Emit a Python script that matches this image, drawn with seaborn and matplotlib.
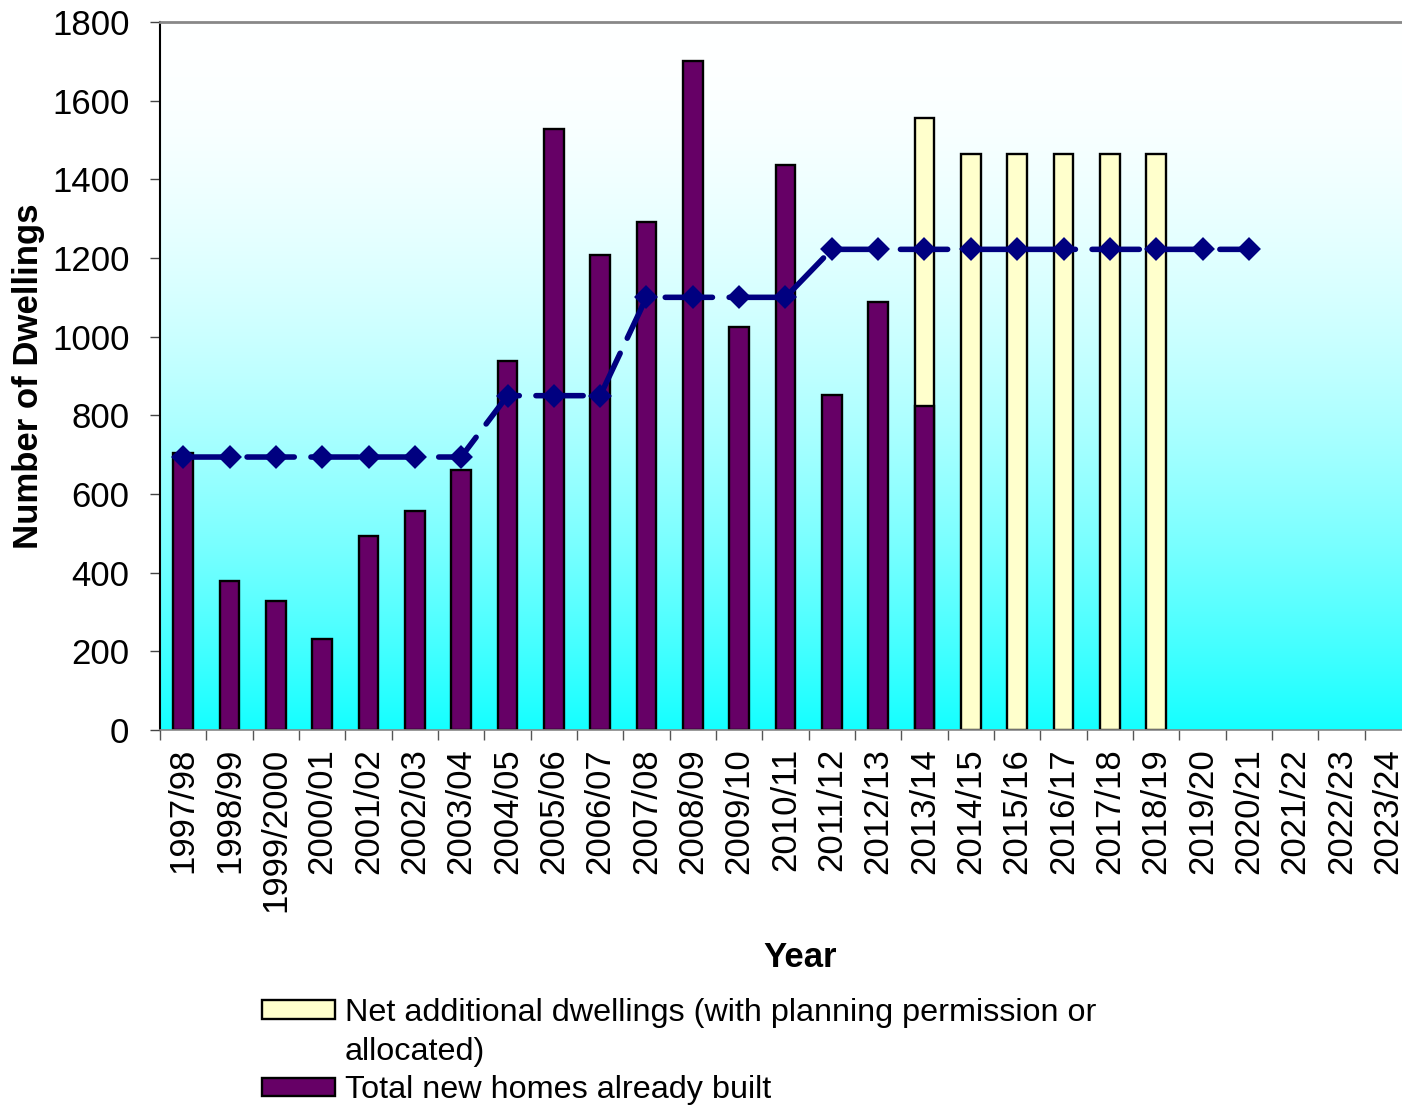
"""Dwelling completions vs requirement, recreated with seaborn."""
import matplotlib; matplotlib.use("Agg")
import numpy as np
import pandas as pd
import matplotlib.pyplot as plt
import seaborn as sns
from matplotlib.patches import Patch

years = ["1997/98", "1998/99", "1999/2000", "2000/01", "2001/02", "2002/03",
         "2003/04", "2004/05", "2005/06", "2006/07", "2007/08", "2008/09",
         "2009/10", "2010/11", "2011/12", "2012/13", "2013/14", "2014/15",
         "2015/16", "2016/17", "2017/18", "2018/19", "2019/20", "2020/21",
         "2021/22", "2022/23", "2023/24"]
nan = np.nan
built = [705, 380, 328, 231, 493, 557, 661, 938, 1528, 1208, 1292, 1701,
         1025, 1437, 852, 1088, 824, nan, nan, nan, nan, nan, nan, nan,
         nan, nan, nan]
net_additional = [nan] * 16 + [732, 1465, 1465, 1465, 1465, 1465] + [nan] * 5
requirement = [694] * 7 + [850] * 3 + [1100] * 4 + [1222] * 10 + [nan] * 3

PURPLE = "#660066"
YELLOW = "#FFFFCC"
NAVY = "#000080"
FS = 25
LEG_FS = 23.3

sns.set_style("white")
plt.rcParams["font.family"] = ["Liberation Sans", "DejaVu Sans"]
plt.rcParams.update({"font.size": FS, "text.color": "black",
                     "axes.labelcolor": "black"})

df = pd.DataFrame({"year": years, "built": built, "net": net_additional,
                   "req": requirement})
# stacked: yellow drawn to full height, purple drawn over the lower part
df["total"] = df["built"].fillna(0) + df["net"]

fig = plt.figure(figsize=(14.02, 11.07), dpi=100)
# plot area runs to the right edge of the picture, as in the original
ax = fig.add_axes([160 / 1402, 1 - 730 / 1107, 1251 / 1402, 708 / 1107])

# gradient background, white at top to cyan at bottom
t = np.linspace(0, 1, 400)[:, None]
r = 1 - 0.92 * t ** 1.85
grad = np.dstack([r, np.ones_like(r), np.ones_like(r)])
ax.imshow(grad, extent=[0, 1, 0, 1], transform=ax.transAxes, aspect="auto",
          zorder=0, interpolation="bilinear")

bw = 0.43
sns.barplot(data=df, x="year", y="total", order=years, color=YELLOW,
            saturation=1, width=bw, edgecolor="black", linewidth=1.7,
            errorbar=None, ax=ax, zorder=2)
sns.barplot(data=df, x="year", y="built", order=years, color=PURPLE,
            saturation=1, width=bw, edgecolor="black", linewidth=1.7,
            errorbar=None, ax=ax, zorder=2)
sns.pointplot(data=df, x="year", y="req", order=years, color=NAVY,
              markers="D", linestyles="--", errorbar=None, ax=ax,
              markersize=9, linewidth=4, zorder=4)
line = ax.lines[-1]
line.set_dashes((8.5, 3))
line.set_dash_capstyle("round")

ax.set_xlim(-0.5, len(years) - 0.5)
ax.set_ylim(0, 1800)
ax.set_yticks(range(0, 1801, 200))
ax.tick_params(axis="y", length=7, width=1, color="#444444", pad=15,
               labelsize=FS, labelcolor="black", left=True)
ax.set_xticks(np.arange(len(years) + 1) - 0.5, minor=True)
ax.tick_params(axis="x", which="major", length=0, pad=13, labelsize=FS,
               labelcolor="black", rotation=90)
ax.tick_params(axis="x", which="minor", length=7, width=1, color="#555555",
               bottom=True)
for lab in ax.get_xticklabels():
    lab.set_va("top")

ax.set_xlabel("Year", fontweight="bold", fontsize=FS)
ax.xaxis.set_label_coords((800 - 160) / 1251, (730 - 941) / 708)
ax.set_ylabel("Number of Dwellings", fontweight="bold", fontsize=FS,
              labelpad=5)

ax.spines["left"].set_color("black")
ax.spines["left"].set_linewidth(1.5)
ax.spines["top"].set_color("#888888")
ax.spines["top"].set_linewidth(2)
ax.spines["bottom"].set_color("#888888")
ax.spines["bottom"].set_linewidth(1.2)
ax.spines["right"].set_visible(False)
for s in ax.spines.values():
    s.set_zorder(5)

# second line of the first label gets an empty handle so the box sits on line 1
handles = [Patch(facecolor=YELLOW, edgecolor="black", linewidth=1.7),
           Patch(facecolor="none", edgecolor="none"),
           Patch(facecolor=PURPLE, edgecolor="black", linewidth=1.7)]
labels = ["Net additional dwellings (with planning permission or",
          "allocated)",
          "Total new homes already built"]
fig.legend(handles, labels, loc="upper left",
           bbox_to_anchor=(262 / 1402, 1 - 998 / 1107), frameon=False,
           fontsize=LEG_FS, handlelength=2.25, handleheight=0.5,
           handletextpad=0.3, labelspacing=0.27, borderaxespad=0,
           borderpad=0)

fig.savefig("out.png", dpi=100)
